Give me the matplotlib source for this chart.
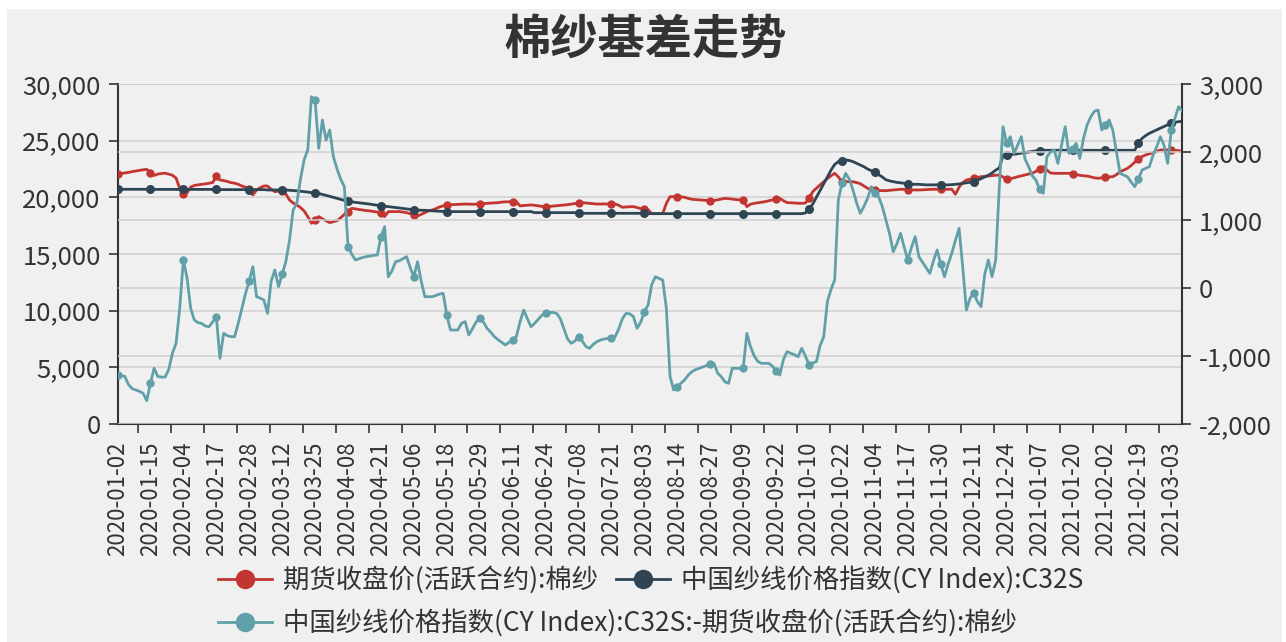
import matplotlib
matplotlib.use('Agg')
import matplotlib.pyplot as plt
from matplotlib.lines import Line2D
from matplotlib.patches import Rectangle
from matplotlib.ticker import FuncFormatter, FixedLocator

# ---------------- data ----------------
title = "棉纱基差走势"
series_names = ["期货收盘价(活跃合约):棉纱",
                "中国纱线价格指数(CY Index):C32S",
                "中国纱线价格指数(CY Index):C32S:-期货收盘价(活跃合约):棉纱"]

tick_labels = ["2020-01-02", "2020-01-15", "2020-02-04", "2020-02-17", "2020-02-28",
               "2020-03-12", "2020-03-25", "2020-04-08", "2020-04-21", "2020-05-06",
               "2020-05-18", "2020-05-29", "2020-06-11", "2020-06-24", "2020-07-08",
               "2020-07-21", "2020-08-03", "2020-08-14", "2020-08-27", "2020-09-09",
               "2020-09-22", "2020-10-10", "2020-10-22", "2020-11-04", "2020-11-17",
               "2020-11-30", "2020-12-11", "2020-12-24", "2021-01-07", "2021-01-20",
               "2021-02-02", "2021-02-19", "2021-03-03"]
label_step = 9

futures = [
    22060, 22100, 22150, 22200, 22270, 22320, 22380, 22430, 22470, 22150,
    21930, 22050, 22100, 22130, 22050, 21950, 21700, 20800, 20300, 20400,
    20900, 21050, 21100, 21150, 21180, 21250, 21300, 21850, 21530, 21480,
    21400, 21300, 21250, 21150, 21000, 20900, 20700, 20210, 20650, 20850,
    21000, 21000, 20700, 20500, 20550, 20590, 20300, 19770, 19500, 19330,
    19100, 18800, 18300, 17710, 18000, 18300, 18100, 17940, 17770, 17850,
    17940, 18200, 18500, 18740, 19030, 18980, 18930, 18880, 18830, 18800,
    18750, 18700, 18650, 18300, 18740, 18740, 18740, 18740, 18700, 18650,
    18550, 18450, 18350, 18500, 18650, 18800, 18880, 19000, 19150, 19250,
    19330, 19350, 19360, 19380, 19390, 19410, 19400, 19390, 19400, 19410,
    19450, 19470, 19490, 19510, 19530, 19580, 19600, 19610, 19620, 19620,
    19240, 19280, 19300, 19330, 19300, 19250, 19200, 19180, 19200, 19230,
    19260, 19290, 19320, 19350, 19400, 19450, 19500, 19530, 19500, 19470,
    19440, 19410, 19410, 19420, 19410, 19400, 19410, 19300, 19120, 19150,
    19170, 19180, 19100, 19000, 18950, 18910, 18560, 18560, 18560, 18560,
    19470, 20060, 20060, 20060, 20050, 20000, 19900, 19830, 19800, 19780,
    19750, 19730, 19710, 19720, 19780, 19850, 19910, 19880, 19850, 19800,
    19780, 19770, 19180, 19400, 19470, 19520, 19570, 19620, 19700, 19780,
    19850, 19910, 19700, 19530, 19520, 19500, 19480, 19470, 19500, 19900,
    20500, 20800, 21100, 21380, 21650, 21900, 22120, 21800, 21380, 21380,
    21380, 21380, 21300, 21200, 21000, 20800, 20650, 20620, 20600, 20590,
    20590, 20620, 20650, 20680, 20710, 20700, 20680, 20660, 20650, 20650,
    20660, 20680, 20700, 20710, 20710, 20710, 20710, 20710, 20710, 20270,
    20900, 21300, 21530, 21600, 21680, 21750, 21820, 21850, 21880, 21920,
    21950, 21970, 21800, 21590, 21650, 21720, 21820, 21900, 21980, 22050,
    22120, 22300, 22500, 22710, 22400, 22150, 22120, 22120, 22120, 22120,
    22120, 22060, 22000, 21950, 21900, 21880, 21800, 21720, 21680, 21720,
    21760, 21800, 21820, 22000, 22270, 22400, 22560, 22800, 23100, 23400,
    23600, 23740, 23850, 23950, 24050, 24180, 24180, 24180, 24200, 24150,
    24120, 24050]

cy_index = [
    20710, 20710, 20710, 20710, 20710, 20710, 20710, 20710, 20710, 20710,
    20700, 20700, 20700, 20700, 20700, 20700, 20700, 20700, 20700, 20700,
    20700, 20700, 20700, 20700, 20700, 20700, 20700, 20700, 20680, 20680,
    20680, 20680, 20680, 20680, 20680, 20680, 20680, 20680, 20680, 20680,
    20680, 20650, 20650, 20650, 20650, 20650, 20650, 20620, 20600, 20570,
    20540, 20500, 20460, 20420, 20380, 20340, 20260, 20180, 20090, 20000,
    19900, 19810, 19730, 19660, 19600, 19560, 19520, 19480, 19440, 19400,
    19350, 19300, 19250, 19220, 19180, 19140, 19100, 19060, 19020, 18980,
    18940, 18900, 18880, 18860, 18850, 18830, 18810, 18790, 18770, 18760,
    18740, 18740, 18740, 18740, 18740, 18740, 18740, 18740, 18740, 18740,
    18740, 18740, 18740, 18740, 18740, 18740, 18740, 18740, 18740, 18740,
    18740, 18740, 18740, 18740, 18650, 18650, 18650, 18650, 18650, 18650,
    18650, 18650, 18650, 18650, 18650, 18650, 18590, 18590, 18590, 18590,
    18590, 18590, 18590, 18590, 18590, 18590, 18590, 18590, 18590, 18590,
    18590, 18590, 18590, 18590, 18590, 18560, 18560, 18560, 18560, 18560,
    18560, 18560, 18560, 18560, 18560, 18560, 18560, 18560, 18560, 18560,
    18560, 18560, 18560, 18560, 18560, 18560, 18560, 18560, 18560, 18560,
    18560, 18560, 18560, 18560, 18560, 18560, 18560, 18560, 18560, 18560,
    18560, 18560, 18560, 18560, 18560, 18560, 18560, 18560, 18620, 19000,
    19400, 20000, 20600, 21200, 21800, 22400, 22900, 23150, 23250, 23300,
    23250, 23150, 23000, 22850, 22700, 22500, 22350, 22200, 22000, 21800,
    21550, 21450, 21380, 21320, 21280, 21240, 21200, 21150, 21150, 21150,
    21120, 21100, 21100, 21100, 21100, 21100, 21100, 21100, 21120, 21150,
    21180, 21230, 21280, 21330, 21380, 21500, 21650, 21800, 21950, 22150,
    22400, 22600, 23700, 23740, 23760, 23800, 23850, 23900, 23950, 24000,
    24050, 24100, 24120, 24150, 24150, 24150, 24150, 24150, 24150, 24150,
    24150, 24150, 24150, 24150, 24150, 24150, 24150, 24150, 24150, 24150,
    24150, 24150, 24150, 24150, 24150, 24150, 24150, 24150, 24150, 24800,
    25200, 25450, 25650, 25800, 25950, 26100, 26250, 26400, 26550, 26620,
    26680, 26700]

basis = [
    -1280, -1290, -1300, -1420, -1480, -1500, -1520, -1549, -1657, -1400,
    -1181, -1300, -1310, -1310, -1200, -960, -813, -300, 412, 150,
    -300, -471, -510, -520, -560, -569, -500, -422, -1034, -667,
    -700, -716, -716, -520, -300, -78, 100, 314, -127, -150,
    -176, -373, 100, 265, 20, 200, 387, 700, 1147, 1245,
    1600, 1882, 2030, 2813, 2765, 2054, 2470, 2176, 2323, 1931,
    1750, 1600, 1490, 608, 500, 412, 430, 450, 461, 470,
    480, 485, 750, 902, 166, 250, 387, 400, 430, 461,
    300, 166, 387, 100, -128, -128, -128, -110, -90, -78,
    -400, -618, -618, -618, -520, -495, -691, -600, -500, -446,
    -500, -593, -650, -716, -760, -800, -838, -800, -760, -716,
    -500, -324, -450, -569, -520, -460, -400, -373, -360, -360,
    -373, -450, -600, -750, -814, -780, -716, -780, -860, -887,
    -830, -790, -765, -750, -740, -730, -716, -600, -450, -373,
    -380, -420, -593, -500, -350, -250, 50, 166, 140, 118,
    -300, -1300, -1500, -1450, -1402, -1350, -1280, -1230, -1200, -1181,
    -1160, -1140, -1120, -1108, -1250, -1304, -1380, -1402, -1181, -1181,
    -1181, -1181, -667, -863, -1000, -1080, -1108, -1108, -1108, -1150,
    -1220, -1280, -1050, -936, -960, -980, -1010, -887, -1000, -1132,
    -1100, -1083, -850, -716, -200, -20, 118, 1300, 1539, 1686,
    1600, 1441, 1250, 1098, 1200, 1320, 1490, 1400, 1343, 1200,
    1000, 800, 534, 650, 804, 600, 412, 600, 755, 461,
    380, 300, 216, 400, 559, 350, 166, 350, 510, 700,
    878, 300, -324, -150, -78, -200, -274, 200, 412, 166,
    412, 1500, 2372, 2127, 2225, 1980, 2100, 2225, 1900, 1784,
    1650, 1588, 1450, 1392, 1931, 2000, 2030, 1833, 2100, 2372,
    1980, 2050, 2127, 1906, 2200, 2400, 2519, 2600, 2617, 2323,
    2400, 2470, 2323, 2000, 1686, 1660, 1637, 1560, 1490, 1600,
    1735, 1760, 1784, 1950, 2078, 2225, 2100, 1833, 2323, 2500,
    2666, 2600]

colors = ["#c23531", "#2f4554", "#61a0a8"]

# ---------------- figure ----------------
plt.rcParams['font.family'] = ['Noto Sans CJK SC', 'DejaVu Sans']
W, H = 1286, 642
BG = '#f0f0f0'
TXT = '#333333'
AXC = '#333333'
GRID = '#d0d0d0'

fig = plt.figure(figsize=(W / 100, H / 100), dpi=100, facecolor=BG)
# white screenshot margins
fig.patches.append(Rectangle((0, 1 - 9 / H), 1, 9 / H, transform=fig.transFigure,
                             facecolor='white', edgecolor='none', zorder=0))
fig.patches.append(Rectangle((0, 0), 7 / W, 1, transform=fig.transFigure,
                             facecolor='white', edgecolor='none', zorder=0))
fig.patches.append(Rectangle((1 - 4 / W, 0), 4 / W, 1, transform=fig.transFigure,
                             facecolor='white', edgecolor='none', zorder=0))

L, R, T, B = 117.5, 1182.3, 84, 424
ax = fig.add_axes([L / W, (H - B) / H, (R - L) / W, (B - T) / H])
ax.set_facecolor('none')
ax2 = ax.twinx()

n = len(futures)
x_f = list(range(len(futures)))
x_c = list(range(len(cy_index)))
x_b = list(range(len(basis)))

lw = 2.0
ax.plot(x_f, futures, color=colors[0], lw=lw, marker='o', ms=6, mew=0,
        markevery=label_step, zorder=3, solid_joinstyle='round')
ax.plot(x_c, cy_index, color=colors[1], lw=lw, marker='o', ms=6.5, mew=0,
        markevery=label_step, zorder=4, solid_joinstyle='round')
ax2.plot(x_b, basis, color=colors[2], lw=lw, marker='o', ms=6, mew=0,
         markevery=label_step, zorder=3, solid_joinstyle='round')

ax.set_xlim(0, n - 1)
ax.set_ylim(0, 30000)
ax2.set_ylim(-2000, 3000)

fmt = FuncFormatter(lambda v, p: f"{v:,.0f}")
ax.yaxis.set_major_locator(FixedLocator(list(range(0, 30001, 5000))))
ax2.yaxis.set_major_locator(FixedLocator(list(range(-2000, 3001, 1000))))
ax.yaxis.set_major_formatter(fmt)
ax2.yaxis.set_major_formatter(fmt)

# grids for both axes
ax.grid(axis='y', color=GRID, lw=1.1, zorder=0)
ax2.grid(axis='y', color=GRID, lw=1.1, zorder=0)
ax.set_axisbelow(True)
ax2.set_axisbelow(True)

# x axis: labels on every 9th category, tick marks offset between
label_pos = [i * label_step for i in range(len(tick_labels))]
ax.set_xticks(label_pos)
ax.set_xticklabels(tick_labels, rotation=90, fontsize=16, color=TXT)
ax.tick_params(axis='x', which='major', length=0, pad=12.5)
minor_pos = [p + 5.65 for p in label_pos[:-1]]
ax.set_xticks(minor_pos, minor=True)
ax.tick_params(axis='x', which='minor', length=6.5, width=1.2, color=AXC, direction='out')

ax.tick_params(axis='y', length=6.5, width=1.2, color=AXC, labelsize=18.5,
               labelcolor=TXT, pad=5.5)
ax2.tick_params(axis='y', length=6.5, width=1.2, color=AXC, labelsize=18.5,
                labelcolor=TXT, pad=5.5)

for a in (ax, ax2):
    for s in a.spines.values():
        s.set_color(AXC)
        s.set_linewidth(1.5)
    a.spines['top'].set_visible(False)
ax.spines['right'].set_visible(False)
ax2.spines['left'].set_visible(False)
ax2.spines['bottom'].set_visible(False)

# title
fig.text(645 / W, 1 - 40 / H, title, ha='center', va='center', fontsize=34,
         fontweight='bold', color=TXT)

# legends (one per item, placed like the original two-row layout)
leg_pos = [(218, 580), (616, 580), (218, 623)]
for c, name, (lx, ly) in zip(colors, series_names, leg_pos):
    h = Line2D([], [], color=c, lw=2, marker='o', ms=14, mew=0)
    fig.legend(handles=[h], labels=[name], loc='center left',
               bbox_to_anchor=(lx / W, 1 - ly / H), frameon=False,
               borderpad=0, borderaxespad=0, handlelength=2.05,
               handletextpad=0.4, fontsize=19, labelcolor='#333333')

fig.savefig('out.png', dpi=100, facecolor=BG)
